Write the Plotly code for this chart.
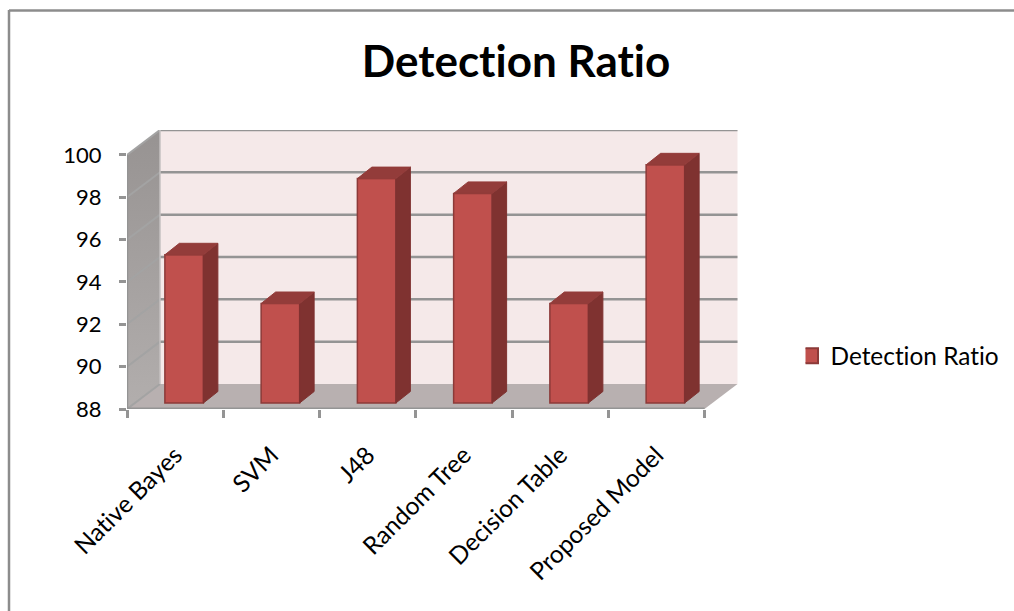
import plotly.graph_objects as go

# Chart data
categories = ["Native Bayes", "SVM", "J48", "Random Tree", "Decision Table", "Proposed Model"]
detection_ratio = [95.0, 92.7, 98.6, 97.9, 92.7, 99.25]
y_ticks = [88, 90, 92, 94, 96, 98, 100]
series_name = "Detection Ratio"
chart_title = "Detection Ratio"

# Page and plot geometry
WIDTH, HEIGHT = 1014, 611
LEFT, RIGHT, TOP, BOTTOM = 127, 274, 130, 202
PX_PER_CATEGORY = 96.25
PX_PER_UNIT = 21.17

Y_MIN, Y_MAX = y_ticks[0], y_ticks[-1]
X_MIN = -0.5
X_MAX = len(categories) - 0.5

# Oblique projection used to fake the 3D box, in axis units
WALL_DX = 33 / PX_PER_CATEGORY
WALL_DY = 25 / PX_PER_UNIT
BAR_SHIFT_X = 9 / PX_PER_CATEGORY
BAR_LIFT = 6 / PX_PER_UNIT
BAR_WIDTH = 38.5 / PX_PER_CATEGORY
BAR_DX = 14.5 / PX_PER_CATEGORY
BAR_DY = 11.5 / PX_PER_UNIT

plot_h = HEIGHT - TOP - BOTTOM
plot_w = WIDTH - LEFT - RIGHT
y_range = [Y_MIN, Y_MIN + plot_h / PX_PER_UNIT]
x_range = [X_MIN, X_MIN + plot_w / PX_PER_CATEGORY]

GRID = "#949494"
GRID_SIDE = "#a3a3a3"
BACK_WALL = "#f5e9e9"
FLOOR = "#b8b0b0"
FRONT = "#c0504d"
EDGE = "#8c3a38"
SIDE = "#7f3230"
CAP = "#933c3a"
FONT = "Lato, Carlito, sans-serif"

fig = go.Figure()


def polygon(xs, ys, fill, axes=("x", "y"), line=None, gradient=None):
    kwargs = dict(
        x=list(xs) + [xs[0]], y=list(ys) + [ys[0]], mode="lines", fill="toself",
        xaxis=axes[0], yaxis=axes[1], showlegend=False, hoverinfo="skip",
        line=dict(width=line[1] if line else 0, color=line[0] if line else fill),
        cliponaxis=False,
    )
    if gradient:
        kwargs["fillgradient"] = dict(
            type="vertical", colorscale=[[0, gradient[0]], [1, gradient[1]]]
        )
    else:
        kwargs["fillcolor"] = fill
    fig.add_trace(go.Scatter(**kwargs))


def segment(xs, ys, color, width):
    fig.add_trace(go.Scatter(
        x=xs, y=ys, mode="lines", line=dict(color=color, width=width),
        showlegend=False, hoverinfo="skip", cliponaxis=False,
    ))


# Box walls
back_l, back_r = X_MIN + WALL_DX, X_MAX + WALL_DX
polygon([X_MIN, back_l, back_l, X_MIN],
        [Y_MIN, Y_MIN + WALL_DY, Y_MAX + WALL_DY, Y_MAX],
        "#a09c9b", gradient=("#b2aead", "#979392"))
polygon([back_l, back_r, back_r, back_l],
        [Y_MIN + WALL_DY, Y_MIN + WALL_DY, Y_MAX + WALL_DY, Y_MAX + WALL_DY],
        BACK_WALL)
polygon([X_MIN, X_MAX, back_r, back_l],
        [Y_MIN, Y_MIN, Y_MIN + WALL_DY, Y_MIN + WALL_DY],
        FLOOR)

# Gridlines along the side wall and the back wall
for tick in y_ticks:
    segment([X_MIN, back_l], [tick, tick + WALL_DY], GRID_SIDE, 2)
    if tick > Y_MIN:
        segment([back_l, back_r], [tick + WALL_DY, tick + WALL_DY], GRID, 2.5)
segment([back_l, back_l], [Y_MIN + WALL_DY, Y_MAX + WALL_DY], "#c4c0c0", 1.5)

# Axis lines
segment([X_MIN, X_MIN], [Y_MIN, Y_MAX], GRID, 2.5)
segment([X_MIN, X_MAX], [Y_MIN, Y_MIN], GRID, 3)

# Front faces of the columns
base = Y_MIN + BAR_LIFT
fig.add_trace(go.Bar(
    x=list(range(len(categories))),
    y=[v - Y_MIN for v in detection_ratio],
    base=base,
    width=BAR_WIDTH,
    offset=BAR_SHIFT_X - BAR_WIDTH / 2,
    marker=dict(color=FRONT, line=dict(color=EDGE, width=1.5)),
    xaxis="x2", yaxis="y2", showlegend=False, name=series_name,
))

# Side and top faces of the columns
for i, value in enumerate(detection_ratio):
    top = value + BAR_LIFT
    xl = i + BAR_SHIFT_X - BAR_WIDTH / 2
    xr = xl + BAR_WIDTH
    polygon([xr, xr + BAR_DX, xr + BAR_DX, xr],
            [base, base + BAR_DY, top + BAR_DY, top],
            SIDE, axes=("x2", "y2"), line=(SIDE, 1))
    polygon([xl, xr, xr + BAR_DX, xl + BAR_DX],
            [top, top, top + BAR_DY, top + BAR_DY],
            CAP, axes=("x2", "y2"), line=(CAP, 1))

# Legend entry
fig.add_trace(go.Scatter(
    x=[None], y=[None], mode="markers", name=series_name,
    marker=dict(symbol="square", size=15, color=FRONT, line=dict(color=EDGE, width=2)),
))


def paper_x(px):
    return (px - LEFT) / plot_w


def paper_y(py):
    return (HEIGHT - BOTTOM - py) / plot_h


axis_common = dict(showgrid=False, zeroline=False, showline=False)

fig.update_layout(
    width=WIDTH, height=HEIGHT,
    margin=dict(l=LEFT, r=RIGHT, t=TOP, b=BOTTOM, pad=0),
    paper_bgcolor="white", plot_bgcolor="white",
    font=dict(family=FONT, color="black"),
    title=dict(
        text=f"<b>{chart_title}</b>", x=516 / WIDTH, xanchor="center",
        y=1 - 62 / HEIGHT, yanchor="middle", font=dict(size=44, family=FONT, color="black"),
    ),
    xaxis=dict(
        range=x_range, tickmode="array", tickvals=list(range(len(categories))),
        ticktext=categories, tickangle=-45, ticks="", ticklabelstandoff=26,
        tickfont=dict(size=24.5, family=FONT, color="black"),
        minor=dict(ticks="outside", tickmode="array",
                   tickvals=[i - 0.5 for i in range(len(categories) + 1)],
                   ticklen=8, tickwidth=2.5, tickcolor=GRID, showgrid=False),
        **axis_common,
    ),
    yaxis=dict(
        range=y_range, tickmode="array", tickvals=y_ticks, ticks="outside",
        ticklen=7, tickwidth=2.5, tickcolor=GRID, ticklabelstandoff=13,
        tickfont=dict(size=22, family=FONT, color="black"),
        **axis_common,
    ),
    xaxis2=dict(range=x_range, overlaying="x", visible=False),
    yaxis2=dict(range=y_range, overlaying="y", visible=False),
    legend=dict(
        xref="container", yref="container",
        x=805.5 / WIDTH, y=1 - 356 / HEIGHT, xanchor="left", yanchor="middle",
        font=dict(size=24.4, family=FONT, color="black"), bgcolor="rgba(0,0,0,0)",
        itemsizing="trace", tracegroupgap=0, indentation=-15,
    ),
    showlegend=True,
    shapes=[
        dict(type="line", xref="paper", yref="paper", layer="below",
             x0=paper_x(9), x1=paper_x(WIDTH), y0=paper_y(10.5), y1=paper_y(10.5),
             line=dict(color="#8c8c8c", width=2.5)),
        dict(type="line", xref="paper", yref="paper", layer="below",
             x0=paper_x(9), x1=paper_x(9), y0=paper_y(10), y1=paper_y(HEIGHT),
             line=dict(color="#8c8c8c", width=2.5)),
    ],
)

# Plain letterforms: switch off the font's ti/tt ligatures on every SVG label
fig.write_html(
    "out.html",
    post_script="document.querySelectorAll('svg text').forEach(function(t){"
                "t.style.fontVariantLigatures='none';});",
)
